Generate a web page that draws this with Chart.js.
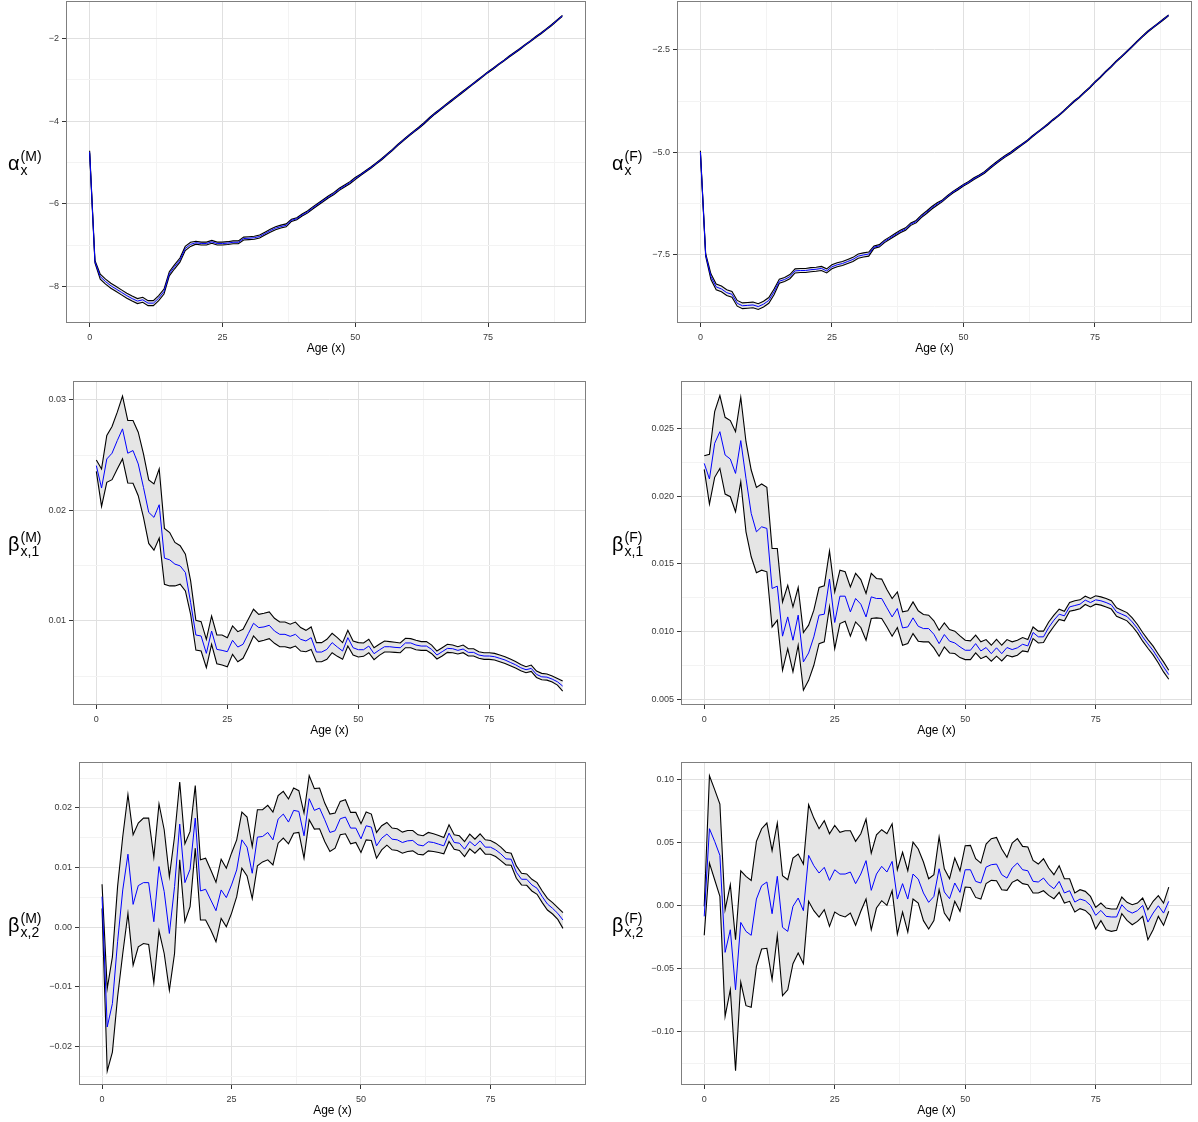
<!DOCTYPE html>
<html><head><meta charset="utf-8">
<script src="https://cdn.jsdelivr.net/npm/chart.js@4.4.1/dist/chart.umd.min.js"></script>
<style>
html,body{margin:0;padding:0;background:#fff;}
body{width:1198px;height:1122px;position:relative;overflow:hidden;font-family:"Liberation Sans",Arial,Helvetica,sans-serif;}
canvas{position:absolute;}
.ylab{position:absolute;display:flex;align-items:center;transform:translateY(-50%);color:#000;line-height:1;white-space:nowrap;}
.ylab .g{font-size:20px;}
.ylab .s{display:inline-flex;flex-direction:column;font-size:14px;margin-left:1px;}
.ylab .s span{display:block;}
</style></head><body>
<script>
// ---------------- DATA ----------------
const ages = [0,1,2,3,4,5,6,7,8,9,10,11,12,13,14,15,16,17,18,19,20,21,22,23,24,25,26,27,28,29,30,31,32,33,34,35,36,37,38,39,40,41,42,43,44,45,46,47,48,49,50,51,52,53,54,55,56,57,58,59,60,61,62,63,64,65,66,67,68,69,70,71,72,73,74,75,76,77,78,79,80,81,82,83,84,85,86,87,88,89];
const xMajorTicks = [0,25,50,75];
const xMinorTicks = [12.5,37.5,62.5,87.5];
const xTitle = "Age (x)";

// alpha_x (M)
const alphaM_mean = [-4.75,-7.40,-7.76,-7.88,-7.98,-8.06,-8.14,-8.22,-8.29,-8.35,-8.32,-8.40,-8.40,-8.28,-8.12,-7.69,-7.52,-7.36,-7.08,-6.98,-6.94,-6.96,-6.96,-6.92,-6.96,-6.96,-6.95,-6.93,-6.93,-6.84,-6.83,-6.82,-6.79,-6.72,-6.65,-6.59,-6.55,-6.52,-6.40,-6.36,-6.27,-6.20,-6.10,-6.01,-5.92,-5.83,-5.75,-5.65,-5.57,-5.49,-5.39,-5.30,-5.21,-5.12,-5.02,-4.92,-4.81,-4.70,-4.58,-4.47,-4.36,-4.26,-4.16,-4.05,-3.93,-3.82,-3.72,-3.62,-3.52,-3.42,-3.32,-3.22,-3.12,-3.02,-2.92,-2.82,-2.73,-2.63,-2.54,-2.44,-2.35,-2.26,-2.16,-2.07,-1.97,-1.88,-1.78,-1.68,-1.57,-1.46];
const alphaM_upper = [-4.72,-7.37,-7.70,-7.82,-7.92,-8.00,-8.08,-8.16,-8.23,-8.29,-8.26,-8.34,-8.34,-8.22,-8.06,-7.64,-7.47,-7.31,-7.03,-6.93,-6.905,-6.925,-6.925,-6.885,-6.925,-6.925,-6.915,-6.895,-6.895,-6.805,-6.795,-6.785,-6.755,-6.685,-6.615,-6.555,-6.515,-6.485,-6.375,-6.335,-6.245,-6.175,-6.075,-5.985,-5.895,-5.805,-5.725,-5.625,-5.545,-5.465,-5.365,-5.285,-5.195,-5.105,-5.005,-4.905,-4.795,-4.685,-4.565,-4.455,-4.345,-4.245,-4.145,-4.035,-3.915,-3.805,-3.705,-3.605,-3.505,-3.405,-3.305,-3.208,-3.108,-3.008,-2.908,-2.808,-2.718,-2.618,-2.528,-2.428,-2.338,-2.248,-2.148,-2.058,-1.958,-1.868,-1.768,-1.668,-1.558,-1.448];
const alphaM_lower = [-4.78,-7.43,-7.82,-7.94,-8.04,-8.12,-8.20,-8.28,-8.35,-8.41,-8.38,-8.46,-8.46,-8.34,-8.18,-7.74,-7.57,-7.41,-7.13,-7.03,-6.975,-6.995,-6.995,-6.955,-6.995,-6.995,-6.985,-6.965,-6.965,-6.875,-6.865,-6.855,-6.825,-6.755,-6.685,-6.625,-6.585,-6.555,-6.425,-6.385,-6.295,-6.225,-6.125,-6.035,-5.945,-5.855,-5.775,-5.675,-5.595,-5.515,-5.415,-5.315,-5.225,-5.135,-5.035,-4.935,-4.825,-4.715,-4.595,-4.485,-4.375,-4.275,-4.175,-4.065,-3.945,-3.835,-3.735,-3.635,-3.535,-3.435,-3.335,-3.232,-3.132,-3.032,-2.932,-2.832,-2.742,-2.642,-2.552,-2.452,-2.362,-2.272,-2.172,-2.082,-1.982,-1.892,-1.792,-1.692,-1.582,-1.472];
const alphaM_yMajor = [-8,-6,-4,-2];
const alphaM_yMinor = [-7,-5,-3];

// alpha_x (F)
const alphaF_mean = [-4.99,-7.50,-8.03,-8.28,-8.33,-8.42,-8.46,-8.68,-8.74,-8.73,-8.72,-8.76,-8.70,-8.61,-8.40,-8.14,-8.10,-8.03,-7.89,-7.88,-7.88,-7.86,-7.85,-7.83,-7.89,-7.79,-7.74,-7.71,-7.66,-7.61,-7.53,-7.50,-7.48,-7.31,-7.28,-7.17,-7.09,-7.01,-6.93,-6.87,-6.75,-6.69,-6.56,-6.46,-6.35,-6.26,-6.18,-6.07,-5.97,-5.89,-5.80,-5.73,-5.64,-5.57,-5.49,-5.38,-5.28,-5.18,-5.09,-5.01,-4.91,-4.82,-4.73,-4.62,-4.52,-4.42,-4.32,-4.21,-4.11,-4.00,-3.88,-3.76,-3.66,-3.54,-3.42,-3.29,-3.17,-3.04,-2.92,-2.79,-2.67,-2.55,-2.43,-2.30,-2.18,-2.06,-1.96,-1.86,-1.76,-1.66];
const alphaF_upper = [-4.96,-7.47,-7.96,-8.21,-8.26,-8.35,-8.39,-8.61,-8.67,-8.66,-8.65,-8.69,-8.63,-8.54,-8.33,-8.09,-8.05,-7.98,-7.84,-7.83,-7.83,-7.81,-7.80,-7.78,-7.84,-7.74,-7.69,-7.66,-7.61,-7.56,-7.48,-7.45,-7.43,-7.28,-7.25,-7.14,-7.06,-6.98,-6.90,-6.84,-6.72,-6.66,-6.53,-6.43,-6.32,-6.23,-6.16,-6.05,-5.95,-5.87,-5.78,-5.71,-5.62,-5.55,-5.47,-5.36,-5.26,-5.16,-5.07,-4.99,-4.89,-4.808,-4.718,-4.608,-4.508,-4.408,-4.308,-4.198,-4.098,-3.988,-3.868,-3.748,-3.648,-3.528,-3.408,-3.278,-3.158,-3.028,-2.908,-2.778,-2.658,-2.538,-2.418,-2.288,-2.168,-2.048,-1.948,-1.848,-1.748,-1.648];
const alphaF_lower = [-5.02,-7.53,-8.10,-8.35,-8.40,-8.49,-8.53,-8.75,-8.81,-8.80,-8.79,-8.83,-8.77,-8.68,-8.47,-8.19,-8.15,-8.08,-7.94,-7.93,-7.93,-7.91,-7.90,-7.88,-7.94,-7.84,-7.79,-7.76,-7.71,-7.66,-7.58,-7.55,-7.53,-7.34,-7.31,-7.20,-7.12,-7.04,-6.96,-6.90,-6.78,-6.72,-6.59,-6.49,-6.38,-6.29,-6.20,-6.09,-5.99,-5.91,-5.82,-5.75,-5.66,-5.59,-5.51,-5.40,-5.30,-5.20,-5.11,-5.03,-4.93,-4.832,-4.742,-4.632,-4.532,-4.432,-4.332,-4.222,-4.122,-4.012,-3.892,-3.772,-3.672,-3.552,-3.432,-3.302,-3.182,-3.052,-2.932,-2.802,-2.682,-2.562,-2.442,-2.312,-2.192,-2.072,-1.972,-1.872,-1.772,-1.672];
const alphaF_yMajor = [-7.5,-5.0,-2.5];
const alphaF_yMinor = [-8.75,-6.25,-3.75];

// beta_{x,1} (M)
const beta1M_mean = [0.02405,0.02202,0.02465,0.02517,0.02631,0.02737,0.02517,0.02541,0.0242,0.02208,0.01982,0.01937,0.02051,0.01568,0.01553,0.01514,0.01498,0.01438,0.01166,0.00873,0.00864,0.00707,0.00909,0.00743,0.00734,0.00722,0.00825,0.00764,0.00789,0.00885,0.00979,0.0094,0.00946,0.00961,0.00909,0.00879,0.00879,0.00861,0.00879,0.00834,0.00819,0.00849,0.00719,0.00719,0.00743,0.00804,0.00764,0.00728,0.00849,0.00758,0.0074,0.0074,0.00773,0.00704,0.00737,0.00767,0.00767,0.00761,0.00758,0.00801,0.00801,0.00782,0.00773,0.00773,0.00743,0.00692,0.00722,0.00752,0.00749,0.00734,0.00746,0.00716,0.00716,0.00692,0.00683,0.00683,0.00677,0.00662,0.00647,0.00625,0.00604,0.00577,0.00559,0.00571,0.00517,0.00495,0.00492,0.00474,0.0045,0.00411];
const beta1M_upper = [0.02456,0.02375,0.02677,0.02758,0.02888,0.03033,0.02813,0.02813,0.02707,0.02511,0.02275,0.02239,0.02375,0.01837,0.018,0.0171,0.0168,0.01604,0.01363,0.01006,0.00994,0.00834,0.01045,0.00873,0.00873,0.00849,0.00955,0.00903,0.00924,0.01015,0.01106,0.0106,0.01069,0.01082,0.01024,0.00991,0.0099,0.0097,0.0099,0.0094,0.00915,0.00946,0.00804,0.00804,0.00834,0.00888,0.00849,0.00804,0.00915,0.00819,0.00804,0.00801,0.00834,0.00758,0.00789,0.00819,0.00813,0.00807,0.00801,0.00843,0.0084,0.00825,0.00813,0.00813,0.00782,0.00728,0.00758,0.00789,0.00782,0.00767,0.00782,0.00749,0.00749,0.00722,0.00713,0.00713,0.00707,0.00692,0.00677,0.00656,0.00634,0.00607,0.00586,0.00601,0.00547,0.00526,0.0052,0.00502,0.0048,0.00456];
const beta1M_lower = [0.02353,0.02036,0.02254,0.02278,0.02375,0.02465,0.02248,0.02245,0.02133,0.01937,0.01701,0.0164,0.01749,0.01332,0.01317,0.01317,0.01332,0.01272,0.0106,0.00737,0.00728,0.00577,0.00789,0.00613,0.00601,0.00586,0.00698,0.00631,0.00662,0.00758,0.00864,0.00813,0.00825,0.0084,0.00798,0.00767,0.00767,0.00755,0.00773,0.00728,0.00722,0.00743,0.00631,0.00631,0.00653,0.00713,0.0068,0.00653,0.00773,0.00692,0.00674,0.0068,0.00713,0.0065,0.00689,0.00719,0.00719,0.00716,0.00713,0.00758,0.00758,0.0074,0.00734,0.00734,0.00704,0.00656,0.00683,0.00716,0.00713,0.00701,0.00713,0.00683,0.00683,0.00662,0.00653,0.00653,0.00647,0.00631,0.00616,0.00595,0.00574,0.0055,0.00532,0.00544,0.00489,0.00468,0.00465,0.00447,0.0042,0.00366];
const beta1M_yMajor = [0.01,0.02,0.03];
const beta1M_yMinor = [0.005,0.015,0.025];

// beta_{x,1} (F)
const beta1F_mean = [0.02241,0.02126,0.02389,0.02475,0.02303,0.02273,0.02167,0.02409,0.02131,0.01872,0.01736,0.01773,0.01761,0.01318,0.01335,0.00966,0.01108,0.00936,0.01121,0.00776,0.00842,0.00961,0.01121,0.01128,0.01387,0.01067,0.01261,0.01261,0.01145,0.01244,0.01202,0.01108,0.01256,0.01244,0.01244,0.01175,0.01108,0.0117,0.01027,0.01034,0.01101,0.01039,0.01022,0.01022,0.0098,0.00911,0.00978,0.00929,0.00916,0.00887,0.00862,0.00862,0.00911,0.00857,0.00882,0.00837,0.0088,0.00837,0.00882,0.00867,0.0088,0.00906,0.00894,0.00993,0.00961,0.00961,0.0103,0.01084,0.01128,0.01116,0.01182,0.01192,0.01202,0.01232,0.01214,0.01234,0.01227,0.01214,0.01197,0.01145,0.01128,0.01111,0.01071,0.01022,0.00961,0.00909,0.0086,0.008,0.00739,0.00682];
const beta1F_upper = [0.02298,0.02308,0.02623,0.02741,0.02581,0.02557,0.02475,0.02729,0.02401,0.02192,0.02064,0.02089,0.02064,0.01613,0.01613,0.01219,0.01342,0.01182,0.01325,0.00993,0.01047,0.01158,0.01325,0.01337,0.01594,0.01293,0.01453,0.01441,0.0133,0.01429,0.01384,0.01281,0.01429,0.01392,0.01387,0.0131,0.01244,0.01293,0.01145,0.01153,0.01219,0.01153,0.01126,0.01121,0.01079,0.0101,0.01064,0.01015,0.01003,0.00968,0.00936,0.00931,0.00973,0.00924,0.00941,0.00899,0.00943,0.00899,0.00941,0.00924,0.00936,0.00956,0.00941,0.01034,0.01003,0.01003,0.01071,0.01121,0.01165,0.0115,0.01214,0.01227,0.01234,0.01261,0.01244,0.01264,0.01256,0.01244,0.01227,0.01175,0.01158,0.0114,0.01101,0.01052,0.00993,0.00941,0.00892,0.00833,0.00776,0.00714];
const beta1F_lower = [0.02197,0.01941,0.02138,0.02204,0.02015,0.01995,0.01884,0.02106,0.01736,0.01552,0.01434,0.01453,0.01441,0.01034,0.01084,0.00714,0.00874,0.00702,0.00899,0.00567,0.0064,0.00751,0.00911,0.00924,0.01182,0.00874,0.01059,0.01076,0.00966,0.01071,0.0103,0.00936,0.01096,0.01101,0.01096,0.01034,0.00966,0.0103,0.00899,0.00911,0.00985,0.00929,0.00924,0.00924,0.00879,0.00818,0.00887,0.00842,0.00838,0.00808,0.00793,0.00793,0.00842,0.008,0.00818,0.00781,0.00818,0.00783,0.00825,0.00813,0.00825,0.00857,0.0085,0.00948,0.00916,0.00919,0.00985,0.01039,0.01089,0.01079,0.0115,0.01158,0.01168,0.012,0.01182,0.01202,0.01195,0.01182,0.01166,0.01113,0.01096,0.01079,0.01039,0.0099,0.00929,0.00877,0.00828,0.00768,0.00702,0.00648];
const beta1F_yMajor = [0.005,0.010,0.015,0.020,0.025];
const beta1F_yMinor = [0.0075,0.0125,0.0175,0.0225,0.0275];

// beta_{x,2} (M)
const beta2M_mean = [0.0051,-0.01677,-0.01285,-0.00247,0.00623,0.01223,0.00381,0.00696,0.00746,0.00746,0.0009,0.01015,0.00595,-0.00107,0.00679,0.01728,0.00746,0.00971,0.01829,0.00606,0.00634,0.00454,0.00275,0.00623,0.00494,0.00707,0.00959,0.01464,0.01341,0.00903,0.01509,0.0152,0.01588,0.01464,0.01812,0.01896,0.01762,0.01958,0.01941,0.01532,0.02154,0.01958,0.01997,0.01801,0.01588,0.01616,0.01818,0.01846,0.01661,0.01661,0.01481,0.017,0.01677,0.01363,0.01492,0.0156,0.01475,0.01464,0.01419,0.01447,0.01453,0.0138,0.01363,0.01431,0.01419,0.01391,0.01363,0.01576,0.01419,0.01408,0.01307,0.01436,0.01363,0.01447,0.01341,0.01341,0.01296,0.01229,0.01144,0.01139,0.0092,0.00802,0.00802,0.00707,0.00651,0.0051,0.00387,0.00314,0.0023,0.00118];
const beta2M_upper = [0.00718,-0.01032,-0.00499,0.00679,0.0152,0.02222,0.01548,0.01745,0.01829,0.01829,0.01173,0.02065,0.01633,0.00847,0.0152,0.02435,0.01397,0.01605,0.02373,0.01128,0.01156,0.00959,0.00752,0.01139,0.00987,0.0124,0.01464,0.0193,0.01846,0.01352,0.01969,0.01969,0.02042,0.0193,0.02205,0.02278,0.02149,0.02334,0.02289,0.01913,0.02541,0.02323,0.02334,0.02081,0.01896,0.01913,0.02109,0.02137,0.01924,0.01924,0.01734,0.0193,0.01896,0.01588,0.017,0.01756,0.01661,0.01649,0.01593,0.01621,0.01621,0.01548,0.01532,0.01588,0.01565,0.01537,0.01504,0.01717,0.01548,0.01532,0.01436,0.0156,0.01475,0.01565,0.01464,0.01453,0.01408,0.01341,0.01257,0.0124,0.01027,0.00903,0.00892,0.00802,0.00746,0.00606,0.00482,0.0041,0.00325,0.00241];
const beta2M_lower = [0.00314,-0.02418,-0.02098,-0.01173,-0.00443,0.0023,-0.0064,-0.00331,-0.00275,-0.00292,-0.00937,-0.00062,-0.00443,-0.0106,-0.00443,0.01128,0.0009,0.00342,0.01324,0.00118,0.00118,-0.0005,-0.00247,0.00146,0.00006,0.0023,0.0051,0.00987,0.00858,0.00477,0.01027,0.01094,0.01128,0.01043,0.01408,0.01492,0.01397,0.01576,0.01588,0.01156,0.01801,0.01644,0.01649,0.01436,0.01268,0.01324,0.01548,0.01565,0.01397,0.01419,0.01251,0.01464,0.01453,0.01156,0.01296,0.01374,0.01296,0.01285,0.0124,0.01268,0.01279,0.01223,0.01212,0.01279,0.01268,0.01251,0.01229,0.01436,0.01307,0.01285,0.01184,0.01313,0.0124,0.01324,0.01223,0.01223,0.01184,0.01116,0.01043,0.01038,0.00819,0.00707,0.00701,0.00606,0.0055,0.0041,0.00286,0.00219,0.00129,-0.00022];
const beta2M_yMajor = [-0.02,-0.01,0.00,0.01,0.02];
const beta2M_yMinor = [-0.025,-0.015,-0.005,0.005,0.015,0.025];

// beta_{x,2} (F)
const beta2F_mean = [-0.0087,0.0607,0.0507,0.0396,-0.0372,-0.0193,-0.0668,-0.0135,-0.0206,-0.0237,0.005,0.0156,0.0185,-0.0066,0.023,-0.0174,-0.0206,-0.0008,0.0058,-0.0042,0.0396,0.0314,0.0256,0.0301,0.0198,0.0282,0.0248,0.0248,0.0264,0.0172,0.0248,0.0354,0.0119,0.0248,0.0309,0.0264,0.0348,0.005,0.0172,0.005,0.0248,0.0208,0.0098,0.0024,0.0071,0.029,0.0106,0.0053,0.0177,0.0103,0.0282,0.0282,0.019,0.0177,0.0303,0.0322,0.0327,0.0243,0.0216,0.0296,0.0335,0.0282,0.0274,0.019,0.0185,0.0216,0.0164,0.0132,0.019,0.0098,0.0116,0.0026,0.005,0.0037,0.0,-0.0079,-0.004,-0.0087,-0.0092,-0.0092,0.0005,-0.004,-0.0061,-0.0042,0.0,-0.0132,-0.0061,-0.0003,-0.0061,0.0032];
const beta2F_upper = [-0.0008,0.1026,0.0916,0.0802,-0.0034,0.0164,-0.0272,0.0274,0.023,0.0198,0.0507,0.0607,0.0652,0.0433,0.0652,0.0235,0.0203,0.0375,0.0406,0.0327,0.0797,0.0691,0.0607,0.067,0.0567,0.0633,0.0578,0.0591,0.0591,0.0507,0.0567,0.0683,0.0414,0.0559,0.0599,0.0567,0.0646,0.0282,0.042,0.0274,0.0501,0.0446,0.0343,0.0211,0.0243,0.0541,0.029,0.0211,0.0375,0.0274,0.0472,0.0475,0.0369,0.0335,0.0485,0.0528,0.0538,0.0446,0.038,0.0493,0.0528,0.0467,0.0462,0.0356,0.0327,0.0369,0.0296,0.0243,0.0314,0.0211,0.0211,0.0098,0.0124,0.0111,0.0071,-0.0016,0.0018,-0.0021,-0.0029,-0.0029,0.0066,0.0024,0.0005,0.0018,0.0058,-0.0034,0.0032,0.0077,0.0018,0.0145];
const beta2F_lower = [-0.0237,0.0335,0.0203,0.0071,-0.0879,-0.0668,-0.1309,-0.0609,-0.0794,-0.0807,-0.0483,-0.0346,-0.034,-0.0588,-0.0237,-0.0715,-0.0668,-0.0462,-0.0377,-0.0462,0.0032,-0.0042,-0.0092,-0.0034,-0.0166,-0.0053,-0.0079,-0.0092,-0.0061,-0.0158,-0.0047,0.005,-0.0193,-0.0021,0.0037,0.0,0.0116,-0.0227,-0.0053,-0.0211,0.005,0.0018,-0.0121,-0.0187,-0.0121,0.0124,-0.0061,-0.0121,0.0032,-0.0047,0.0145,0.0142,0.0063,0.005,0.0172,0.0198,0.0195,0.0124,0.0119,0.0182,0.0203,0.0172,0.0164,0.0098,0.0098,0.0116,0.0079,0.0053,0.0103,0.0018,0.0032,-0.0053,-0.0026,-0.004,-0.0079,-0.0187,-0.0121,-0.0193,-0.0206,-0.0198,-0.0066,-0.0119,-0.0153,-0.0127,-0.0087,-0.0272,-0.0193,-0.0087,-0.0158,-0.0047];
const beta2F_yMajor = [-0.10,-0.05,0.00,0.05,0.10];
const beta2F_yMinor = [-0.125,-0.075,-0.025,0.025,0.075];

// ---------------- LAYOUT / STYLE ----------------
const FONT = "'Liberation Sans', Arial, Helvetica, sans-serif";
const panels = [
  {L:66,  T:1,   R:586,  B:323,  ymin:-8.88,  ymax:-1.10,  dec:0, mean:alphaM_mean, up:alphaM_upper, lo:alphaM_lower, maj:alphaM_yMajor, min:alphaM_yMinor, lab:{g:'α', sup:'(M)', sub:'x'}, labX:8},
  {L:677, T:1,   R:1192, B:323,  ymin:-9.16,  ymax:-1.31,  dec:1, mean:alphaF_mean, up:alphaF_upper, lo:alphaF_lower, maj:alphaF_yMajor, min:alphaF_yMinor, lab:{g:'α', sup:'(F)', sub:'x'}, labX:612},
  {L:73,  T:381, R:586,  B:705,  ymin:0.0024, ymax:0.0317, dec:2, mean:beta1M_mean, up:beta1M_upper, lo:beta1M_lower, maj:beta1M_yMajor, min:beta1M_yMinor, lab:{g:'β', sup:'(M)', sub:'x,1'}, labX:8},
  {L:681, T:381, R:1192, B:705,  ymin:0.00458,ymax:0.02849,dec:3, mean:beta1F_mean, up:beta1F_upper, lo:beta1F_lower, maj:beta1F_yMajor, min:beta1F_yMinor, lab:{g:'β', sup:'(F)', sub:'x,1'}, labX:612},
  {L:79,  T:762, R:586,  B:1085, ymin:-0.0265,ymax:0.0277, dec:2, mean:beta2M_mean, up:beta2M_upper, lo:beta2M_lower, maj:beta2M_yMajor, min:beta2M_yMinor, lab:{g:'β', sup:'(M)', sub:'x,2'}, labX:8},
  {L:681, T:762, R:1192, B:1085, ymin:-0.1422,ymax:0.1135, dec:2, mean:beta2F_mean, up:beta2F_upper, lo:beta2F_lower, maj:beta2F_yMajor, min:beta2F_yMinor, lab:{g:'β', sup:'(F)', sub:'x,2'}, labX:612}
];

const YW = 60, XH = 34, PADR = 2, PADT = 1;
const isIn = (arr, v) => arr.some(m => Math.abs(m - v) < 1e-9);
const fmt = (v, d) => { let s = Math.abs(v) < 1e-12 ? (0).toFixed(d) : v.toFixed(d); return s.replace('-', '\u2212'); };

const borderPlugin = {
  id: 'panelBorder',
  afterDatasetsDraw(chart) {
    const a = chart.chartArea, c = chart.ctx;
    c.save();
    c.strokeStyle = '#7f7f7f'; c.lineWidth = 1;
    c.strokeRect(Math.round(a.left) + 0.5, Math.round(a.top) + 0.5, Math.round(a.right - a.left) - 1, Math.round(a.bottom - a.top) - 1);
    c.restore();
  }
};

function gridColor(majors) {
  return c => (c.tick && isIn(majors, c.tick.value)) ? '#e0e0e0' : '#f3f3f3';
}
function tickCol(majors) {
  return c => (c.tick && isIn(majors, c.tick.value)) ? '#333333' : 'rgba(0,0,0,0)';
}

panels.forEach(p => {
  const cv = document.createElement('canvas');
  const w = (p.R - p.L) + YW + PADR;
  const h = (p.B - p.T) + PADT + XH;
  cv.width = w; cv.height = h;
  cv.style.left = (p.L - YW) + 'px';
  cv.style.top = (p.T - PADT) + 'px';
  cv.style.width = w + 'px'; cv.style.height = h + 'px';
  document.body.appendChild(cv);

  const xAll = xMajorTicks.concat(xMinorTicks).sort((a, b) => a - b);
  const yAll = p.maj.concat(p.min).sort((a, b) => a - b);

  new Chart(cv.getContext('2d'), {
    type: 'line',
    data: {
      labels: ages,
      datasets: [
        {data: p.mean, borderColor: '#0000ff', borderWidth: 1, pointRadius: 0, fill: false, tension: 0},
        {data: p.up, borderColor: '#000000', borderWidth: 1.1, pointRadius: 0, fill: '+1', backgroundColor: '#e5e5e5', tension: 0},
        {data: p.lo, borderColor: '#000000', borderWidth: 1.1, pointRadius: 0, fill: false, tension: 0}
      ]
    },
    options: {
      responsive: false, animation: false, devicePixelRatio: 1, events: [],
      layout: {padding: {left: 0, right: PADR, top: PADT, bottom: 0}, autoPadding: false},
      plugins: {legend: {display: false}, tooltip: {enabled: false}, filler: {drawTime: 'beforeDatasetsDraw', propagate: false}},
      scales: {
        x: {
          type: 'linear', min: -4.45, max: 93.45,
          afterBuildTicks: s => { s.ticks = xAll.map(v => ({value: v})); },
          afterFit: s => { s.height = XH; s.paddingLeft = 0; s.paddingRight = 0; },
          ticks: {autoSkip: false, maxRotation: 0, minRotation: 0, padding: 5, color: '#3a3a3a', font: {family: FONT, size: 9},
                  callback: v => isIn(xMajorTicks, v) ? String(v) : ''},
          grid: {color: gridColor(xMajorTicks), lineWidth: 1, drawTicks: true, tickLength: 4, tickWidth: 1, tickColor: tickCol(xMajorTicks)},
          border: {display: false},
          title: {display: true, text: xTitle, color: '#000', font: {family: FONT, size: 12}, padding: {top: 0, bottom: 1}}
        },
        y: {
          type: 'linear', min: p.ymin, max: p.ymax,
          afterBuildTicks: s => { s.ticks = yAll.map(v => ({value: v})); },
          afterFit: s => { s.width = YW; s.paddingTop = 0; s.paddingBottom = 0; },
          ticks: {autoSkip: false, padding: 3, color: '#3a3a3a', font: {family: FONT, size: 9},
                  callback: v => isIn(p.maj, v) ? fmt(v, p.dec) : ''},
          grid: {color: gridColor(p.maj), lineWidth: 1, drawTicks: true, tickLength: 4, tickWidth: 1, tickColor: tickCol(p.maj)},
          border: {display: false}
        }
      }
    },
    plugins: [borderPlugin]
  });

  const lab = document.createElement('div');
  lab.className = 'ylab';
  lab.style.left = p.labX + 'px';
  lab.style.top = ((p.T + p.B) / 2 + 1) + 'px';
  const g = document.createElement('span'); g.className = 'g'; g.textContent = p.lab.g;
  const s = document.createElement('span'); s.className = 's';
  const sp = document.createElement('span'); sp.textContent = p.lab.sup;
  const sb = document.createElement('span'); sb.textContent = p.lab.sub;
  s.appendChild(sp); s.appendChild(sb);
  lab.appendChild(g); lab.appendChild(s);
  document.body.appendChild(lab);
});
</script>
</body></html>
